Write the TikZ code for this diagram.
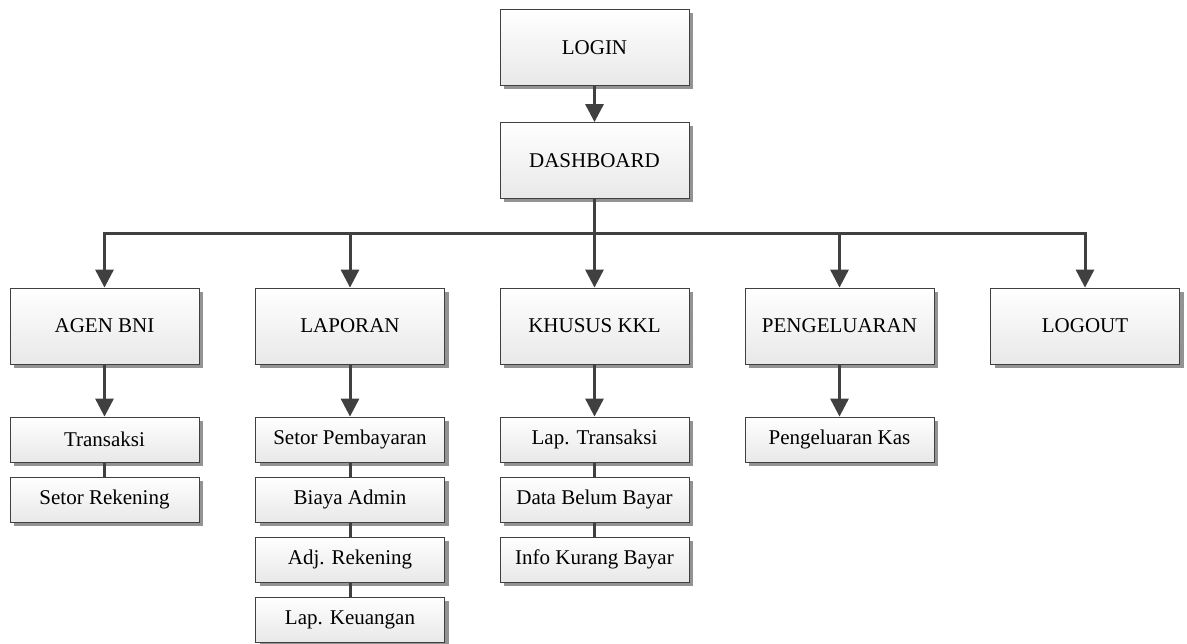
\documentclass[tikz,border=0pt]{standalone}
\usepackage{fontspec}
\setmainfont{Liberation Serif}
\usetikzlibrary{arrows.meta,shadows}
\definecolor{linec}{HTML}{404040}
\definecolor{shadc}{HTML}{939393}
\tikzset{
  boxbase/.style={draw=linec, line width=0.8pt, top color=white, bottom color=black!9,
    drop shadow={shadow xshift=4pt, shadow yshift=-4pt, fill=shadc, opacity=1},
    inner sep=0pt, minimum width=189pt, font=\fontsize{21}{25}\selectfont},
  bigbox/.style={boxbase, minimum height=76pt},
  smallbox/.style={boxbase, minimum height=45pt},
  arr/.style={draw=linec, line width=3pt, -{Triangle[length=18pt,width=18pt]}},
  link/.style={draw=linec, line width=3pt}
}
\begin{document}
\begin{tikzpicture}[x=1pt,y=1pt]
\useasboundingbox (0,0) rectangle (1187,-644);
% top
\node[bigbox] (login) at (594.5,-47.5) {LOGIN};
\node[bigbox] (dash) at (594.5,-160.5) {DASHBOARD};
% level 2
\node[bigbox] (agen) at (104.5,-326) {AGEN BNI};
\node[bigbox] (lap) at (350,-326) {LAPORAN};
\node[bigbox] (kkl) at (594.5,-326) {KHUSUS KKL};
\node[bigbox] (peng) at (839.5,-326) {PENGELUARAN};
\node[bigbox] (logout) at (1085,-326) {LOGOUT};
% level 3
\node[smallbox] (a1) at (104.5,-439.5) {Transaksi};
\node[smallbox] (a2) at (104.5,-499.5) {Setor Rekening};
\node[smallbox] (l1) at (350,-439.5) {Setor Pembayaran};
\node[smallbox] (l2) at (350,-499.5) {Biaya Admin};
\node[smallbox] (l3) at (350,-559.5) {Adj. Rekening};
\node[smallbox] (l4) at (350,-619.5) {Lap. Keuangan};
\node[smallbox] (k1) at (594.5,-439.5) {Lap. Transaksi};
\node[smallbox] (k2) at (594.5,-499.5) {Data Belum Bayar};
\node[smallbox] (k3) at (594.5,-559.5) {Info Kurang Bayar};
\node[smallbox] (p1) at (839.5,-439.5) {Pengeluaran Kas};
% connectors
\draw[arr] (login) -- (dash);
\draw[arr] (dash.south) -- ++(0,-35) -| (agen.north);
\draw[arr] (dash.south) -- ++(0,-35) -| (lap.north);
\draw[arr] (dash.south) -- (kkl.north);
\draw[arr] (dash.south) -- ++(0,-35) -| (peng.north);
\draw[arr] (dash.south) -- ++(0,-35) -| (logout.north);
\draw[arr] (agen) -- (a1);
\draw[arr] (lap) -- (l1);
\draw[arr] (kkl) -- (k1);
\draw[arr] (peng) -- (p1);
\draw[link] (a1) -- (a2);
\draw[link] (l1) -- (l2);
\draw[link] (l2) -- (l3);
\draw[link] (l3) -- (l4);
\draw[link] (k1) -- (k2);
\draw[link] (k2) -- (k3);
\end{tikzpicture}
\end{document}
